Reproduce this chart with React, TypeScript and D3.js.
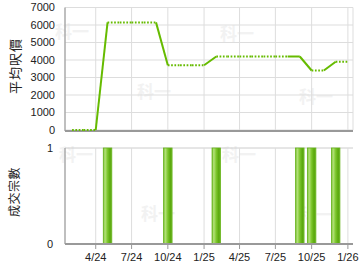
import React from "react";
import * as d3 from "d3";

const months = [
  "2024-02","2024-03","2024-04","2024-05","2024-06","2024-07","2024-08","2024-09","2024-10","2024-11","2024-12",
  "2025-01","2025-02","2025-03","2025-04","2025-05","2025-06","2025-07","2025-08","2025-09","2025-10","2025-11","2025-12","2026-01",
];
const avgPrice = [0,0,0,6150,6150,6150,6150,6150,3700,3700,3700,3700,4200,4200,4200,4200,4200,4200,4200,4200,3400,3400,3900,3900];
const txCount = [0,0,0,1,0,0,0,0,1,0,0,0,1,0,0,0,0,0,0,1,1,0,1,0];
const xTickDates = ["2024-04","2024-07","2024-10","2025-01","2025-04","2025-07","2025-10","2026-01"];
const xTickLabels = ["4/24","7/24","10/24","1/25","4/25","7/25","10/25","1/26"];
const priceTicks = [0,1000,2000,3000,4000,5000,6000,7000];
const countTicks = [0,1];
const topTitle = "平均呎價";
const bottomTitle = "成交宗數";
const watermark = "科一";

const parse = (s: string) => new Date(s + "-01T00:00:00");

export default function App() {
  const W = 360, H = 270;
  const left = 65, right = 353;
  const x = d3.scaleTime().domain([new Date("2024-01-14T00:00:00"), new Date("2026-01-14T00:00:00")]).range([left, right]);
  const yTop = d3.scaleLinear().domain([0, 7000]).range([130, 7.5]);
  const yBot = d3.scaleLinear().domain([0, 1]).range([244, 148]);
  const green = "#66bb00";
  const font = "'Liberation Sans', Arial, sans-serif";
  const cjk = "'Noto Sans CJK TC', sans-serif";

  const pts = months.map((m, i) => ({ x: x(parse(m)), y: yTop(avgPrice[i]) }));
  const segs = pts.slice(1).map((p, i) => ({ a: pts[i], b: p, solid: txCount[i + 1] > 0 }));
  const line = d3.line<{ x: number; y: number }>().x(d => d.x).y(d => d.y);
  const barW = 8.5;

  const wm = [
    [72, 38], [154, 98], [237, 40], [316, 103],
    [76, 161], [158, 220], [239, 161], [316, 221],
  ];

  return (
    <svg width={W} height={H} style={{ position: "absolute", left: 0, top: 0 }}>
      <defs>
        <linearGradient id="barg" x1="0" x2="1" y1="0" y2="0">
          <stop offset="0" stopColor="#6fb82a" />
          <stop offset="0.2" stopColor="#b5e27a" />
          <stop offset="0.5" stopColor="#7cc62c" />
          <stop offset="0.8" stopColor="#5aa80c" />
          <stop offset="1" stopColor="#6fb82a" />
        </linearGradient>
      </defs>
      <rect width={W} height={H} fill="#fff" />
      {wm.map(([cx, cy], i) => (
        <text key={i} x={cx} y={cy} textAnchor="middle" fontFamily={cjk} fontWeight="bold" fontSize={17} fill="#f2f2f2">{watermark}</text>
      ))}
      {priceTicks.map(t => (
        <line key={t} x1={left} x2={right} y1={yTop(t)} y2={yTop(t)} stroke="#dddddd" strokeWidth={1} />
      ))}
      {xTickDates.map(d => (
        <line key={d} x1={x(parse(d))} x2={x(parse(d))} y1={yTop(7000)} y2={yTop(0)} stroke="#dddddd" strokeWidth={1} />
      ))}
      <line x1={right} x2={right} y1={yTop(7000)} y2={yTop(0)} stroke="#dddddd" />
      <line x1={left} x2={left} y1={yTop(7000)} y2={131} stroke="#aaaaaa" strokeWidth={1.5} />
      <line x1={left} x2={right} y1={131} y2={131} stroke="#999999" strokeWidth={2} />
      {priceTicks.map(t => (
        <text key={t} x={55} y={yTop(t)} dy="0.35em" textAnchor="end" fontFamily={font} fontSize={11} fill="#222">{t}</text>
      ))}
      {segs.map((s, i) => (
        <path key={i} d={line([s.a, s.b]) || ""} fill="none" stroke={green} strokeWidth={2}
          strokeDasharray={s.solid ? undefined : "1.7,1.6"} />
      ))}
      <text transform={`translate(15,66) rotate(-90)`} textAnchor="middle" dy="0.35em" fontFamily={cjk} fontSize={13} letterSpacing={1} fill="#222">{topTitle}</text>

      {countTicks.map(t => (
        <line key={t} x1={left} x2={right} y1={yBot(t)} y2={yBot(t)} stroke="#cccccc" strokeWidth={1} />
      ))}
      {xTickDates.map(d => (
        <line key={d} x1={x(parse(d))} x2={x(parse(d))} y1={yBot(1)} y2={yBot(0)} stroke="#dddddd" strokeWidth={1} />
      ))}
      {months.map((m, i) => txCount[i] > 0 ? (
        <rect key={m} x={x(parse(m)) - barW / 2} y={yBot(txCount[i])} width={barW} height={yBot(0) - yBot(txCount[i])}
          fill="url(#barg)" stroke="#66b31a" strokeWidth={0.8} />
      ) : null)}
      <line x1={left} x2={left} y1={yBot(1)} y2={yBot(0)} stroke="#aaaaaa" strokeWidth={1.5} />
      <line x1={left} x2={right} y1={yBot(0)} y2={yBot(0)} stroke="#999999" strokeWidth={2} />
      {xTickDates.map((d, i) => (
        <g key={d}>
          <line x1={x(parse(d))} x2={x(parse(d))} y1={yBot(0)} y2={yBot(0) + 5} stroke="#999" />
          <text x={x(parse(d))} y={261} textAnchor="middle" fontFamily={font} fontSize={11} fill="#222">{xTickLabels[i]}</text>
        </g>
      ))}
      {countTicks.map(t => (
        <text key={t} x={53} y={yBot(t)} dy="0.35em" textAnchor="end" fontFamily={font} fontSize={11} fill="#222">{t}</text>
      ))}
      <text transform={`translate(15,192) rotate(-90)`} textAnchor="middle" dy="0.35em" fontFamily={cjk} fontSize={12} letterSpacing={0.5} fill="#222">{bottomTitle}</text>
    </svg>
  );
}
